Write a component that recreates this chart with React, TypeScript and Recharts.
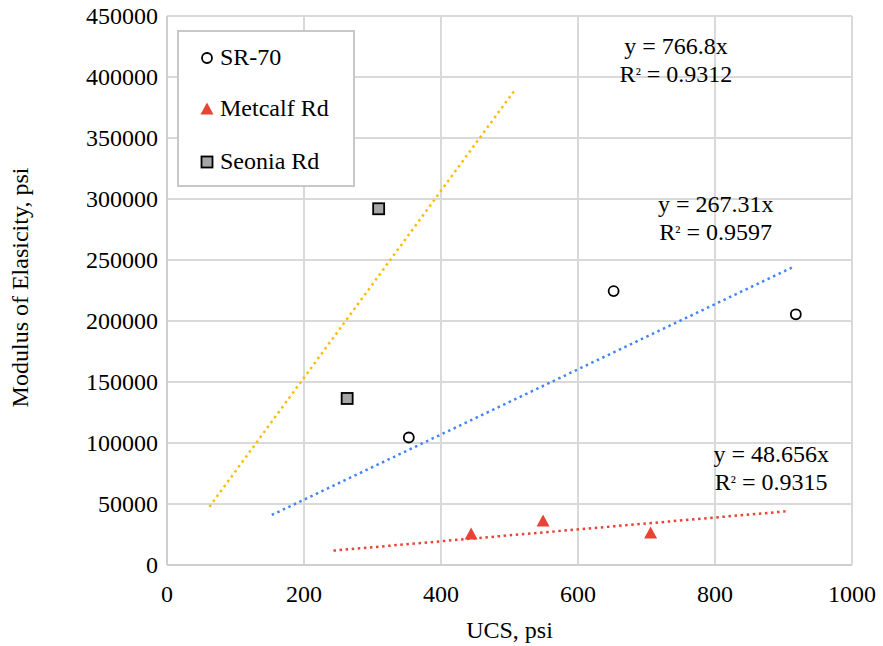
import React from 'react';
import {
  ScatterChart,
  Scatter,
  XAxis,
  YAxis,
  CartesianGrid,
  Legend,
  ReferenceDot,
} from 'recharts';

// ---- data ----
const xTicks = [0, 200, 400, 600, 800, 1000];
const yTicks = [0, 50000, 100000, 150000, 200000, 250000, 300000, 350000, 400000, 450000];

const seriesNames = ['SR-70', 'Metcalf Rd', 'Seonia Rd'];

const sr70 = [
  { x: 353, y: 104500 },
  { x: 652, y: 224500 },
  { x: 918, y: 205500 },
];
const metcalf = [
  { x: 444, y: 25400 },
  { x: 549, y: 36000 },
  { x: 706, y: 26200 },
];
const seonia = [
  { x: 309, y: 292000 },
  { x: 263, y: 136500 },
];

// trendline end points (as drawn)
const seoniaTrend = [
  { x: 62, y: 47800 },
  { x: 508, y: 389500 },
];
const sr70Trend = [
  { x: 153, y: 41000 },
  { x: 913, y: 244000 },
];
const metcalfTrend = [
  { x: 243, y: 11800 },
  { x: 904, y: 44000 },
];

const eqLines1 = ['y = 766.8x', 'y = 267.31x', 'y = 48.656x'];
const eqR2 = ['0.9312', '0.9597', '0.9315'];
const eqX = [743, 801, 882];
const eqY = [414000, 284400, 79900];

// ---- styling ----
const FONT = '"Liberation Serif", "Times New Roman", serif';
const GRID = '#d9d9d9';
const YELLOW = '#fbbc04';
const BLUE = '#4285f4';
const RED = '#ea4335';
const trendDash = '2.5 3.6';

const CircleShape = (p: any) => (
  <circle cx={p.cx} cy={p.cy} r={5} fill="#fff" stroke="#000" strokeWidth={1.8} />
);
const TriangleShape = (p: any) => (
  <polygon
    points={`${p.cx},${p.cy - 6.5} ${p.cx + 6.5},${p.cy + 5.5} ${p.cx - 6.5},${p.cy + 5.5}`}
    fill={RED}
  />
);
const SquareShape = (p: any) => (
  <rect x={p.cx - 5.5} y={p.cy - 5.5} width={11} height={11} fill="#a6a6a6" stroke="#000" strokeWidth={1.8} />
);
const NoShape = () => <g />;

const XTick = (p: any) => (
  <text x={p.x} y={p.y + 29} textAnchor="middle" dominantBaseline="central" fontFamily={FONT} fontSize={24} fill="#000">
    {p.payload.value}
  </text>
);
const YTick = (p: any) => (
  <text x={p.x - 9} y={p.y} textAnchor="end" dominantBaseline="central" fontFamily={FONT} fontSize={24} fill="#000">
    {p.payload.value}
  </text>
);

const legendIcons = [
  <circle cx={7} cy={7} r={5} fill="#fff" stroke="#000" strokeWidth={1.8} />,
  <polygon points="7,0.5 13.5,12.5 0.5,12.5" fill={RED} />,
  <rect x={1.5} y={1.5} width={11} height={11} fill="#a6a6a6" stroke="#000" strokeWidth={1.8} />,
];
const legendRowY = [25, 76, 129];

const LegendBox = () => (
  <div
    style={{
      position: 'relative',
      width: 178,
      height: 157,
      boxSizing: 'border-box',
      border: '2px solid #c8c8c8',
      background: '#fff',
      fontFamily: FONT,
      fontSize: 24,
      color: '#000',
    }}
  >
    {seriesNames.map((name, i) => (
      <div key={name} style={{ position: 'absolute', left: 0, top: legendRowY[i] - 16, height: 32, width: '100%' }}>
        <svg width={14} height={14} style={{ position: 'absolute', left: 21, top: 10 }}>
          {legendIcons[i]}
        </svg>
        <span style={{ position: 'absolute', left: 41, top: 0, lineHeight: '32px', whiteSpace: 'nowrap' }}>{name}</span>
      </div>
    ))}
  </div>
);

const makeEq = (i: number) => (p: any) => (
  <g>
    <text x={p.cx} y={p.cy - 14} textAnchor="middle" dominantBaseline="central" fontFamily={FONT} fontSize={24} fill="#000">
      {eqLines1[i]}
    </text>
    <text x={p.cx} y={p.cy + 14} textAnchor="middle" dominantBaseline="central" fontFamily={FONT} fontSize={24} fill="#000">
      R<tspan fontSize={17}>²</tspan> = {eqR2[i]}
    </text>
  </g>
);

export default function App() {
  return (
    <div style={{ position: 'absolute', left: 0, top: 0, width: 883, height: 646, background: '#fff' }}>
      <ScatterChart width={883} height={646} margin={{ top: 16, right: 31, bottom: 41, left: 67 }}>
        <CartesianGrid stroke={GRID} strokeWidth={2} horizontalValues={yTicks} verticalValues={xTicks} />
        <XAxis
          type="number"
          dataKey="x"
          domain={[0, 1000]}
          ticks={xTicks}
          height={40}
          tickLine={false}
          tickSize={0}
          tickMargin={0}
          axisLine={{ stroke: '#cfcfcf', strokeWidth: 2 }}
          tick={<XTick />}
          interval={0}
          label={{
            content: (p: any) => (
              <text
                x={p.viewBox.x + p.viewBox.width / 2}
                y={p.viewBox.y + 65}
                textAnchor="middle"
                dominantBaseline="central"
                fontFamily={FONT}
                fontSize={24}
                fill="#000"
              >
                UCS, psi
              </text>
            ),
          }}
        />
        <YAxis
          type="number"
          dataKey="y"
          domain={[0, 450000]}
          ticks={yTicks}
          width={100}
          tickLine={false}
          tickSize={0}
          tickMargin={0}
          axisLine={{ stroke: '#cfcfcf', strokeWidth: 2 }}
          tick={<YTick />}
          interval={0}
          label={{
            content: (p: any) => {
              const cx = 20;
              const cy = p.viewBox.y + p.viewBox.height / 2 - 3;
              return (
                <text
                  x={cx}
                  y={cy}
                  transform={`rotate(-90 ${cx} ${cy})`}
                  textAnchor="middle"
                  dominantBaseline="central"
                  fontFamily={FONT}
                  fontSize={24}
                  fill="#000"
                >
                  Modulus of Elasicity, psi
                </text>
              );
            },
          }}
        />
        <Legend
          layout="vertical"
          align="center"
          verticalAlign="middle"
          content={<LegendBox />}
          wrapperStyle={{ left: 177, top: 30, width: 178, height: 157 }}
        />
        <Scatter
          name="seonia trend"
          data={seoniaTrend}
          line={{ stroke: YELLOW, strokeWidth: 2.5, strokeDasharray: trendDash }}
          shape={<NoShape />}
          isAnimationActive={false}
          legendType="none"
        />
        <Scatter
          name="sr70 trend"
          data={sr70Trend}
          line={{ stroke: BLUE, strokeWidth: 2.5, strokeDasharray: trendDash }}
          shape={<NoShape />}
          isAnimationActive={false}
          legendType="none"
        />
        <Scatter
          name="metcalf trend"
          data={metcalfTrend}
          line={{ stroke: RED, strokeWidth: 2.5, strokeDasharray: trendDash }}
          shape={<NoShape />}
          isAnimationActive={false}
          legendType="none"
        />
        <Scatter name={seriesNames[0]} data={sr70} shape={CircleShape} isAnimationActive={false} />
        <Scatter name={seriesNames[1]} data={metcalf} shape={TriangleShape} isAnimationActive={false} />
        <Scatter name={seriesNames[2]} data={seonia} shape={SquareShape} isAnimationActive={false} />
        {eqX.map((x, i) => (
          <ReferenceDot key={i} x={x} y={eqY[i]} r={0} shape={makeEq(i)} ifOverflow="visible" />
        ))}
      </ScatterChart>
    </div>
  );
}
